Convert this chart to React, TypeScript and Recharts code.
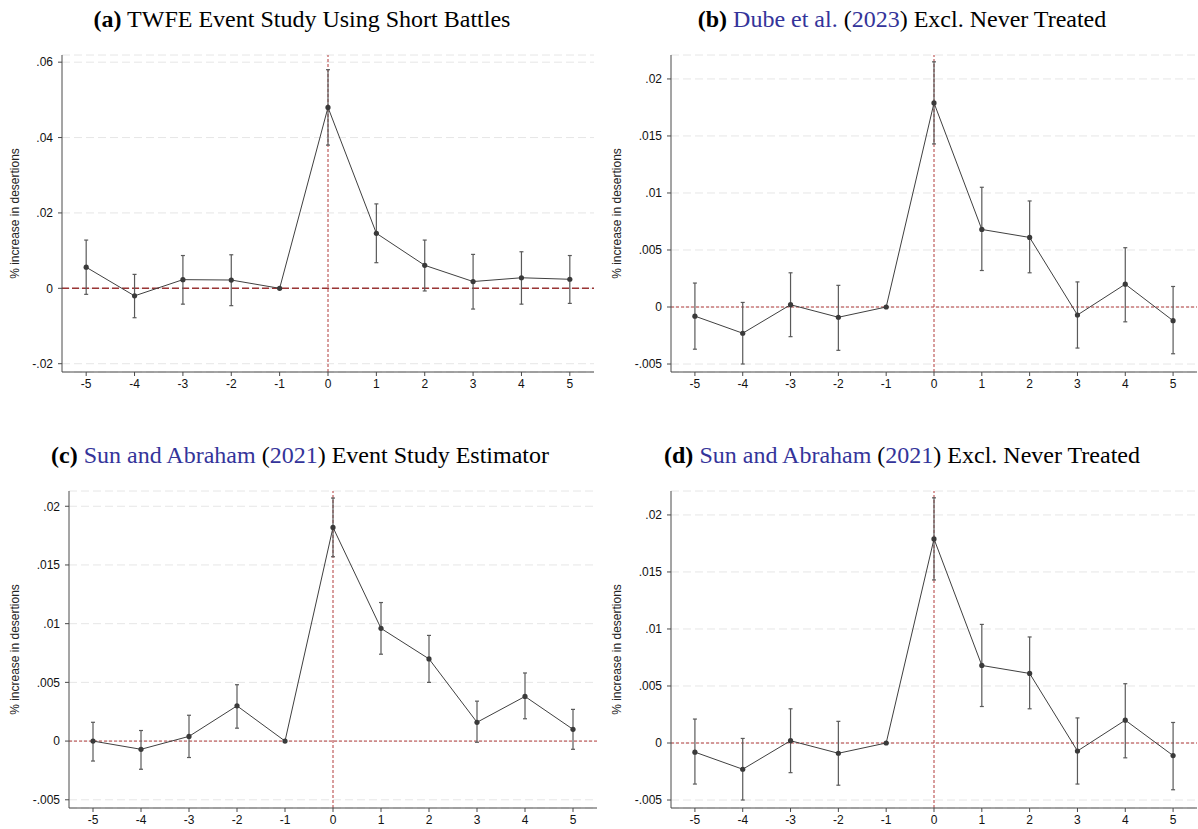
import React from 'react';
import {
    ComposedChart, Line, XAxis, YAxis, CartesianGrid, ReferenceLine, ErrorBar,
} from 'recharts';

// event time relative to the battle
const eventTimes = [-5, -4, -3, -2, -1, 0, 1, 2, 3, 4, 5];

// (a) TWFE, short battles
const twfeEst = [0.0056, -0.002, 0.0023, 0.0022, 0, 0.048, 0.0146, 0.0061, 0.0018, 0.0028, 0.0024];
const twfeLo = [-0.0016, -0.0078, -0.0042, -0.0046, 0, 0.038, 0.0068, -0.0007, -0.0055, -0.0042, -0.004];
const twfeHi = [0.0128, 0.0037, 0.0087, 0.0089, 0, 0.058, 0.0224, 0.0128, 0.009, 0.0097, 0.0087];

// (b) Dube et al. excl. never treated
const dubeEst = [-0.0008, -0.0023, 0.0002, -0.0009, 0, 0.0179, 0.0068, 0.0061, -0.0007, 0.002, -0.0012];
const dubeLo = [-0.0037, -0.005, -0.0026, -0.0038, 0, 0.0143, 0.0032, 0.003, -0.0036, -0.0013, -0.0041];
const dubeHi = [0.0021, 0.0004, 0.003, 0.0019, 0, 0.0215, 0.0105, 0.0093, 0.0022, 0.0052, 0.0018];

// (c) Sun and Abraham estimator
const saEst = [0, -0.0007, 0.0004, 0.003, 0, 0.0182, 0.0096, 0.007, 0.0016, 0.0038, 0.001];
const saLo = [-0.0017, -0.0024, -0.0014, 0.0011, 0, 0.0157, 0.0074, 0.005, -0.0001, 0.0019, -0.0007];
const saHi = [0.0016, 0.0009, 0.0022, 0.0048, 0, 0.0207, 0.0118, 0.009, 0.0034, 0.0058, 0.0027];

// (d) Sun and Abraham excl. never treated
const saNtEst = [-0.0008, -0.0023, 0.0002, -0.0009, 0, 0.0179, 0.0068, 0.0061, -0.0007, 0.002, -0.0011];
const saNtLo = [-0.0036, -0.005, -0.0026, -0.0037, 0, 0.0143, 0.0032, 0.003, -0.0036, -0.0013, -0.0041];
const saNtHi = [0.0021, 0.0004, 0.003, 0.0019, 0, 0.0215, 0.0104, 0.0093, 0.0022, 0.0052, 0.0018];

const bigTicks = [-0.02, 0, 0.02, 0.04, 0.06];
const smallTicks = [-0.005, 0, 0.005, 0.01, 0.015, 0.02];

const SANS = '"Liberation Sans", Arial, sans-serif';
const SERIF = '"Liberation Serif", "Times New Roman", serif';
const BLUE = '#34349a';
const RED = '#b23a3a';

const buildRows = (est: number[], lo: number[], hi: number[]) =>
    eventTimes.map((t, i) => ({ t, est: est[i], err: [est[i] - lo[i], hi[i] - est[i]] }));

// Stata style labels: .02, -.005
const stataFmt = (v: number) => String(v).replace('0.', '.');

const YLabel = (props: any) => {
    const { viewBox, shift } = props;
    const x = viewBox.x + shift;
    const y = viewBox.y + viewBox.height / 2;
    return (
        <text x={x} y={y} transform={`rotate(-90 ${x} ${y})`} textAnchor="middle"
            dominantBaseline="central" fontSize={12} fill="#222" fontFamily={SANS}>
            % increase in desertions
        </text>
    );
};

interface PanelProps {
    left: number;
    top: number;
    width: number;
    height: number;
    marginTop: number;
    marginRight: number;
    yWidth: number;
    labelShift: number;
    rows: any[];
    domain: [number, number];
    ticks: number[];
    dashedZero?: boolean;
}

const Panel = (p: PanelProps) => (
    <div style={{ position: 'absolute', left: p.left, top: p.top }}>
        <ComposedChart width={p.width} height={p.height} data={p.rows}
            margin={{ top: p.marginTop, right: p.marginRight, bottom: 0, left: 0 }}>
            <CartesianGrid vertical={false} stroke="#e6e6e6" strokeDasharray="8 4" />
            <XAxis dataKey="t" type="number" domain={[-5.5, 5.5]} ticks={eventTimes}
                height={21} tickSize={4} tickMargin={3} stroke="#4a4a4a"
                tick={{ fontSize: 12, fill: '#111', fontFamily: SANS }} />
            <YAxis type="number" domain={p.domain} ticks={p.ticks} allowDataOverflow
                width={p.yWidth} tickSize={4} tickMargin={5} stroke="#4a4a4a"
                tickFormatter={stataFmt}
                tick={{ fontSize: 12, fill: '#111', fontFamily: SANS }}
                label={<YLabel shift={p.labelShift} />} />
            {p.dashedZero ? (
                <ReferenceLine y={0} stroke="#9a3434" strokeWidth={1.4} strokeDasharray="7 3" />
            ) : (
                <ReferenceLine y={0} stroke={RED} strokeDasharray="3 2" />
            )}
            <ReferenceLine x={0} stroke={RED} strokeDasharray="3 2" />
            <Line dataKey="est" stroke="#404040" strokeWidth={1} isAnimationActive={false}
                dot={{ r: 2.6, fill: '#3a3a3a', stroke: '#3a3a3a', strokeWidth: 0 }}>
                <ErrorBar dataKey="err" direction="y" width={2} stroke="#5a5a5a"
                    strokeWidth={1.2} isAnimationActive={false} />
            </Line>
        </ComposedChart>
    </div>
);

const Title = ({ cx, cy, children }: { cx: number, cy: number, children: React.ReactNode }) => (
    <div style={{
        position: 'absolute', left: cx - 300, top: cy - 14, width: 600, textAlign: 'center',
        fontFamily: SERIF, fontSize: 24, lineHeight: '28px', color: '#000', whiteSpace: 'nowrap',
    }}>
        {children}
    </div>
);

const App = () => (
    <div style={{
        position: 'absolute', left: 0, top: 0, width: 1198, height: 829,
        background: '#fff', overflow: 'hidden',
    }}>
        <Title cx={302} cy={19}>
            <b>(a)</b> TWFE Event Study Using Short Battles
        </Title>
        <Title cx={902} cy={19}>
            <b>(b)</b> <span style={{ color: BLUE }}>Dube et al.</span> (<span style={{ color: BLUE }}>2023</span>) Excl. Never Treated
        </Title>
        <Title cx={300} cy={455}>
            <b>(c)</b> <span style={{ color: BLUE }}>Sun and Abraham</span> (<span style={{ color: BLUE }}>2021</span>) Event Study Estimator
        </Title>
        <Title cx={902} cy={455}>
            <b>(d)</b> <span style={{ color: BLUE }}>Sun and Abraham</span> (<span style={{ color: BLUE }}>2021</span>) Excl. Never Treated
        </Title>

        <Panel left={0} top={40} width={600} height={353} marginTop={15} marginRight={6}
            yWidth={62} labelShift={15} rows={buildRows(twfeEst, twfeLo, twfeHi)}
            domain={[-0.0222, 0.0619]} ticks={bigTicks} dashedZero />
        <Panel left={600} top={40} width={598} height={353} marginTop={15} marginRight={1}
            yWidth={71} labelShift={17} rows={buildRows(dubeEst, dubeLo, dubeHi)}
            domain={[-0.0057, 0.0221]} ticks={smallTicks} />
        <Panel left={0} top={480} width={600} height={349} marginTop={11} marginRight={3}
            yWidth={69} labelShift={15} rows={buildRows(saEst, saLo, saHi)}
            domain={[-0.0057, 0.0213]} ticks={smallTicks} />
        <Panel left={600} top={480} width={598} height={349} marginTop={11} marginRight={1}
            yWidth={71} labelShift={17} rows={buildRows(saNtEst, saNtLo, saNtHi)}
            domain={[-0.0057, 0.0221]} ticks={smallTicks} />
    </div>
);

export default App;
